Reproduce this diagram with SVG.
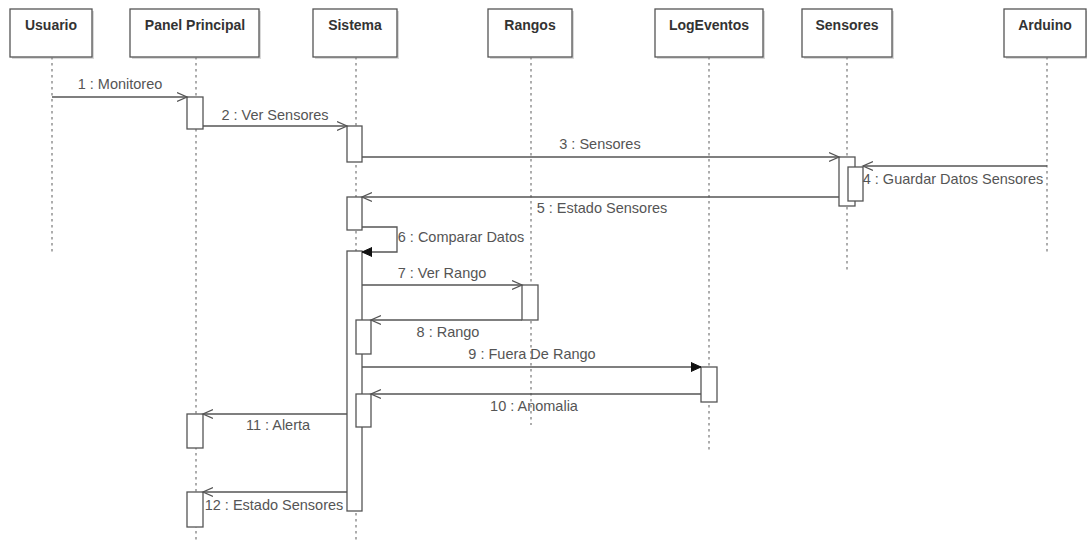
<svg xmlns="http://www.w3.org/2000/svg" width="1087" height="541" viewBox="0 0 1087 541">
<style>
.shadow{fill:#d9d9d9;stroke:none}
.head{fill:#fff;stroke:#555;stroke-width:1.3}
.htext{font-family:"Liberation Sans",Arial,sans-serif;font-size:14px;font-weight:bold;fill:#333;text-anchor:middle}
.life{stroke:#777;stroke-width:1.2;stroke-dasharray:2.5 3.5;fill:none}
.act{fill:#fff;stroke:#555;stroke-width:1.3}
.msg{stroke:#555;stroke-width:1.3;fill:none}
.open{marker-end:url(#openArrow)}
.filled{marker-end:url(#filledArrow)}
.mtext{font-family:"Liberation Sans",Arial,sans-serif;font-size:14.5px;fill:#555;text-anchor:middle}
</style>
<defs>
<marker id="openArrow" markerWidth="12" markerHeight="12" refX="10" refY="5" orient="auto" markerUnits="userSpaceOnUse" viewBox="0 0 12 10">
<path d="M0,0.5 L10,5 L0,9.5" fill="none" stroke="#555" stroke-width="1.3"/>
</marker>
<marker id="filledArrow" markerWidth="12" markerHeight="12" refX="10" refY="5" orient="auto" markerUnits="userSpaceOnUse" viewBox="0 0 12 10">
<path d="M0,0.5 L10,5 L0,9.5 Z" fill="#111" stroke="#111" stroke-width="1"/>
</marker>
</defs>
<rect width="1087" height="541" fill="#fff"/>

<g id="usuario">
<rect class="shadow" x="12" y="11" width="82" height="48"/>
<rect class="head" x="10" y="9" width="82" height="48"/>
<text class="htext" x="51" y="30">Usuario</text>
<line class="life" x1="52" y1="57" x2="52" y2="255"/>
</g>

<g id="panel-principal">
<rect class="shadow" x="132" y="11" width="129" height="48"/>
<rect class="head" x="130" y="9" width="129" height="48"/>
<text class="htext" x="195" y="30">Panel Principal</text>
<line class="life" x1="196" y1="57" x2="196" y2="541"/>
<rect class="act" x="187" y="97" width="16" height="32"/>
<rect class="act" x="187" y="414" width="16" height="34"/>
<rect class="act" x="187" y="492" width="16" height="35"/>
</g>

<g id="sistema">
<rect class="shadow" x="315" y="11" width="84" height="48"/>
<rect class="head" x="313" y="9" width="84" height="48"/>
<text class="htext" x="355" y="30">Sistema</text>
<line class="life" x1="356" y1="57" x2="356" y2="541"/>
<rect class="act" x="347" y="126" width="15" height="36"/>
<rect class="act" x="347" y="197" width="15" height="33"/>
<rect class="act" x="347" y="251" width="15" height="260"/>
<rect class="act" x="356" y="320" width="15" height="34"/>
<rect class="act" x="356" y="394" width="15" height="33"/>
</g>

<g id="rangos">
<rect class="shadow" x="490" y="11" width="84" height="48"/>
<rect class="head" x="488" y="9" width="84" height="48"/>
<text class="htext" x="530" y="30">Rangos</text>
<line class="life" x1="531" y1="57" x2="531" y2="425"/>
<rect class="act" x="522" y="285" width="16" height="35"/>
</g>

<g id="logeventos">
<rect class="shadow" x="657" y="11" width="108" height="48"/>
<rect class="head" x="655" y="9" width="108" height="48"/>
<text class="htext" x="709" y="30">LogEventos</text>
<line class="life" x1="709" y1="57" x2="709" y2="453"/>
<rect class="act" x="701" y="367" width="16" height="35"/>
</g>

<g id="sensores">
<rect class="shadow" x="804" y="11" width="90" height="48"/>
<rect class="head" x="802" y="9" width="90" height="48"/>
<text class="htext" x="847" y="30">Sensores</text>
<line class="life" x1="847" y1="57" x2="847" y2="270"/>
<rect class="act" x="839" y="157" width="16" height="49"/>
<rect class="act" x="848" y="167" width="15" height="34"/>
</g>

<g id="arduino">
<rect class="shadow" x="1006" y="11" width="82" height="48"/>
<rect class="head" x="1004" y="9" width="82" height="48"/>
<text class="htext" x="1045" y="30">Arduino</text>
<line class="life" x1="1047" y1="57" x2="1047" y2="255"/>
</g>

<g id="connectors">
<path class="msg open" d="M52,97 H187"/>
<text class="mtext" x="120" y="89">1 : Monitoreo</text>
<path class="msg open" d="M203,126 H347"/>
<text class="mtext" x="275" y="120">2 : Ver Sensores</text>
<path class="msg open" d="M362,157 H839"/>
<text class="mtext" x="600" y="149">3 : Sensores</text>
<path class="msg open" d="M1047,166 H863"/>
<text class="mtext" x="953" y="184">4 : Guardar Datos Sensores</text>
<path class="msg open" d="M839,197 H362"/>
<text class="mtext" x="602" y="213">5 : Estado Sensores</text>
<path class="msg filled" d="M362,227 H397 V252 H362"/>
<text class="mtext" x="461" y="242">6 : Comparar Datos</text>
<path class="msg open" d="M362,285 H522"/>
<text class="mtext" x="442" y="278">7 : Ver Rango</text>
<path class="msg open" d="M522,320 H371"/>
<text class="mtext" x="448" y="337">8 : Rango</text>
<path class="msg filled" d="M362,367 H701"/>
<text class="mtext" x="532" y="359">9 : Fuera De Rango</text>
<path class="msg open" d="M701,394 H371"/>
<text class="mtext" x="534" y="411">10 : Anomalia</text>
<path class="msg open" d="M347,414 H203"/>
<text class="mtext" x="278" y="430">11 : Alerta</text>
<path class="msg open" d="M347,492 H203"/>
<text class="mtext" x="274" y="510">12 : Estado Sensores</text>
</g>
</svg>
